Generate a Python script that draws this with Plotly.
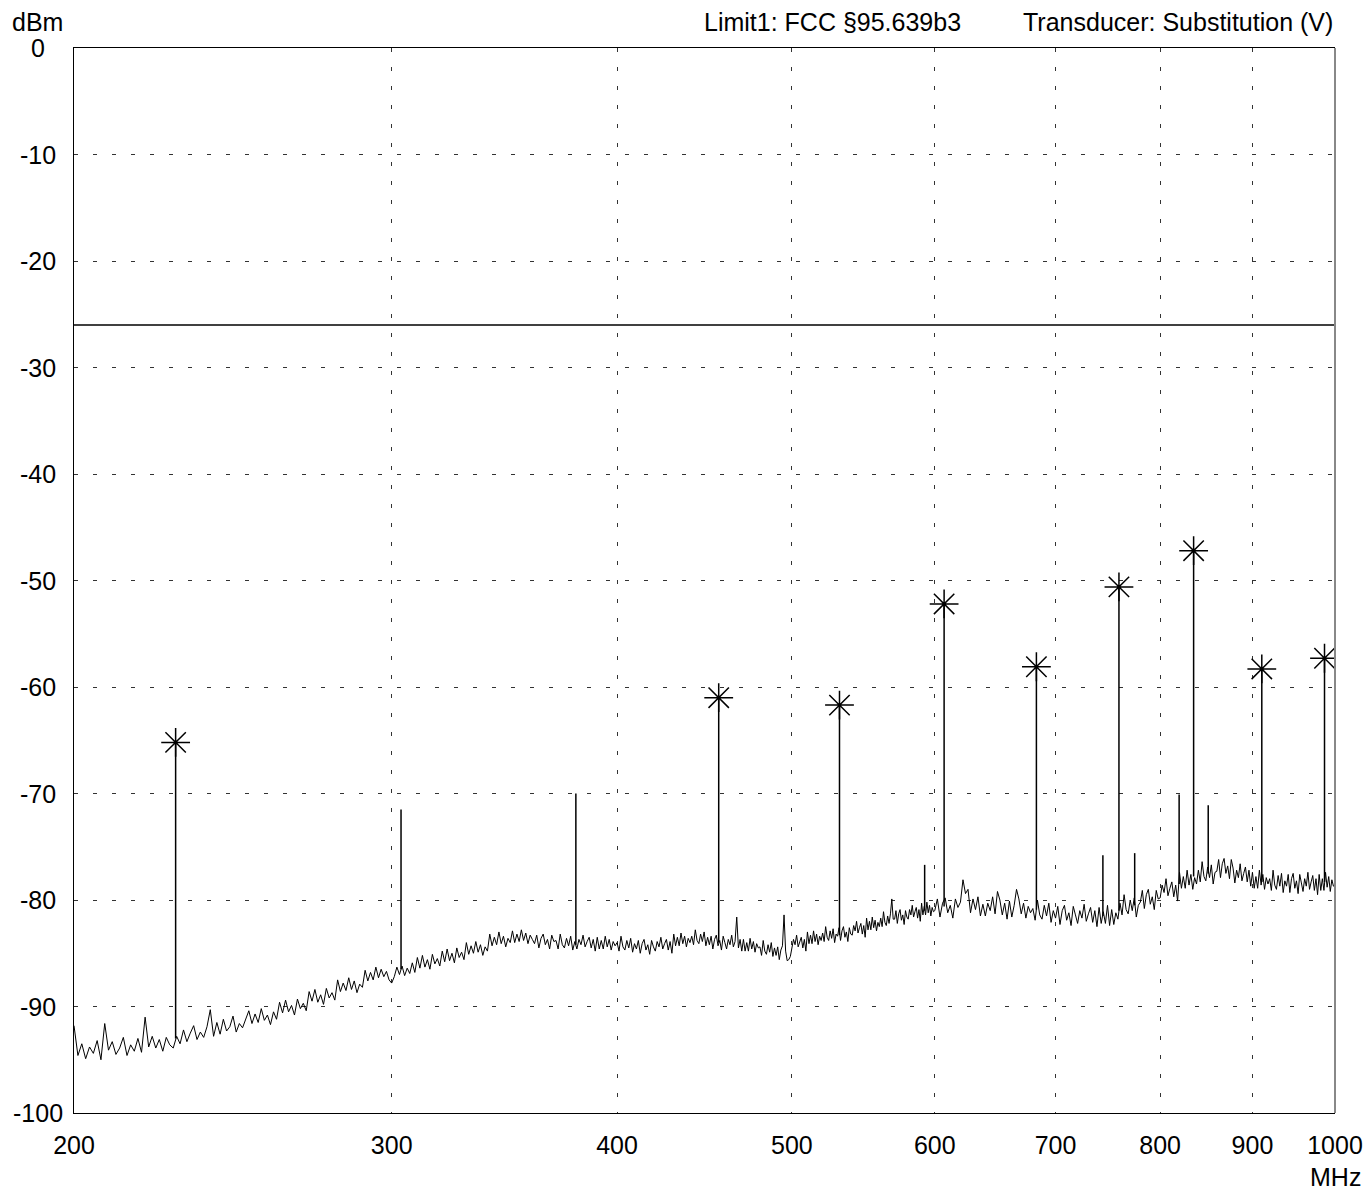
import numpy as np
import plotly.graph_objects as go

# ---------------- data ----------------
x_ticks = [200, 300, 400, 500, 600, 700, 800, 900, 1000]
x_tick_labels = ["200", "300", "400", "500", "600", "700", "800", "900", "1000"]
y_ticks = [0, -10, -20, -30, -40, -50, -60, -70, -80, -90, -100]
y_tick_labels = ["0", "-10", "-20", "-30", "-40", "-50", "-60", "-70", "-80", "-90", "-100"]

limit_dbm = -26.0

# noise floor 200..599 MHz, 1 MHz sweep step
level_a = [
    -91.8, -94.6, -93.5, -94.9, -93.8, -94.4, -93.2, -95.0, -91.6, -94.1,
    -93.3, -94.5, -93.9, -92.9, -94.6, -93.6, -94.2, -93.0, -94.3, -91.0,
    -93.8, -92.8, -93.9, -93.1, -94.2, -92.9, -93.6, -93.9, -92.8, -93.5,
    -92.2, -93.3, -92.5, -91.8, -93.1, -92.4, -92.9, -91.9, -90.3, -92.8,
    -91.5, -92.6, -91.2, -92.3, -91.9, -90.9, -92.4, -91.6, -92.0, -91.1,
    -90.4, -91.6, -90.7, -91.5, -90.2, -91.3, -90.8, -91.7, -90.5, -91.2,
    -89.6, -90.6, -89.4, -90.5, -89.9, -90.8, -89.3, -90.2, -89.7, -90.4,
    -88.6, -89.5, -88.4, -89.6, -88.9, -89.8, -88.3, -89.2, -88.7, -89.4,
    -87.5, -88.6, -87.8, -88.5, -87.3, -88.4, -87.6, -88.7, -87.9, -88.2,
    -86.6, -87.6, -86.8, -87.5, -86.3, -87.3, -86.5, -87.2, -86.7, -87.5,
    -87.8, -87.2, -86.3, -87.0, -86.2, -87.1, -86.4, -86.9, -85.9, -86.8,
    -85.4, -86.4, -85.2, -86.3, -85.6, -86.5, -85.1, -86.0, -85.5, -86.2,
    -84.8, -85.8, -84.6, -85.7, -85.0, -85.9, -84.5, -85.4, -84.9, -85.6,
    -84.0, -85.1, -84.3, -85.0, -83.9, -84.9, -84.2, -85.2, -84.4, -84.8,
    -83.2, -84.3, -83.5, -84.2, -83.0, -84.1, -83.4, -84.4, -83.6, -84.0,
    -82.9, -84.0, -83.2, -83.9, -82.8, -83.8, -83.1, -84.1, -83.3, -83.7,
    -84.1, -83.3, -84.5, -83.6, -83.2, -84.2, -83.7, -84.6, -83.3, -83.9,
    -83.8, -84.6, -83.2, -84.2, -84.5, -83.6, -84.3, -83.4, -84.7, -83.9,
    -84.6, -83.7, -84.2, -83.3, -84.4, -83.9, -83.5, -84.5, -83.7, -84.8,
    -83.5, -84.6, -83.8, -84.6, -83.4, -84.4, -83.7, -84.7, -83.9, -84.3,
    -84.0, -84.8, -83.4, -84.4, -84.7, -83.8, -84.5, -83.6, -84.9, -84.1,
    -84.6, -83.8, -85.0, -84.1, -83.7, -84.7, -84.2, -85.1, -83.8, -84.4,
    -84.8, -83.9, -84.4, -83.5, -84.6, -84.1, -83.7, -84.7, -83.9, -85.0,
    -83.2, -84.3, -83.5, -84.3, -83.1, -84.1, -83.4, -84.4, -83.6, -84.0,
    -83.4, -84.2, -82.8, -83.8, -84.1, -83.2, -83.9, -83.0, -84.3, -83.5,
    -84.2, -83.4, -84.6, -83.7, -83.3, -84.3, -83.8, -84.7, -83.4, -84.0,
    -84.6, -83.7, -84.2, -83.3, -84.4, -83.9, -81.6, -84.5, -83.7, -84.8,
    -83.7, -84.8, -84.0, -84.8, -83.6, -84.6, -83.9, -84.9, -84.1, -84.5,
    -84.4, -85.2, -83.8, -84.8, -85.1, -84.2, -84.9, -84.0, -85.3, -84.5,
    -85.2, -84.4, -85.6, -84.7, -84.3, -81.4, -84.8, -85.7, -85.6, -85.3,
    -84.6, -83.7, -84.2, -83.3, -84.4, -83.9, -83.5, -84.5, -83.7, -84.8,
    -83.0, -84.1, -83.3, -84.1, -82.9, -83.9, -83.2, -84.2, -83.4, -83.8,
    -83.1, -83.9, -82.5, -83.5, -83.8, -82.9, -83.6, -82.7, -84.0, -83.2,
    -83.4, -82.6, -83.8, -82.9, -82.5, -83.5, -83.0, -83.9, -82.6, -83.2,
    -83.3, -82.4, -82.9, -82.0, -83.1, -82.6, -82.2, -83.2, -82.4, -83.5,
    -81.7, -82.8, -82.0, -82.8, -81.6, -82.6, -81.9, -82.9, -82.1, -82.5,
    -81.7, -82.5, -81.1, -82.1, -82.4, -81.5, -82.2, -81.3, -79.9, -81.8,
    -81.8, -81.0, -82.2, -81.3, -80.9, -81.9, -81.4, -82.3, -81.0, -81.6,
    -81.8, -80.9, -81.4, -80.5, -81.6, -81.1, -80.7, -81.7, -80.9, -82.0,
    -80.3, -81.4, -80.6, -81.4, -80.2, -81.2, -80.5, -81.5, -80.7, -81.1,
]

# noise floor 600..1000 MHz, 2 MHz sweep step
level_b = [
    -81.0, -79.9, -81.6, -80.3, -79.8, -81.2, -80.5, -81.7, -79.9, -80.7,
    -80.2, -78.1, -79.4, -79.0, -81.2, -79.9, -80.9, -79.7, -81.5, -80.4,
    -81.5, -80.3, -81.0, -79.7, -81.3, -79.2, -80.0, -81.4, -80.3, -81.8,
    -80.1, -81.6, -80.5, -79.0, -79.9, -81.3, -80.3, -81.7, -80.6, -81.2,
    -80.8, -81.9, -80.0, -81.4, -81.8, -80.5, -81.5, -80.3, -82.1, -81.0,
    -81.7, -80.6, -82.3, -81.0, -80.5, -81.9, -81.2, -82.4, -80.6, -81.4,
    -82.2, -81.0, -81.7, -80.4, -82.0, -81.3, -80.7, -82.1, -81.0, -82.5,
    -80.7, -82.2, -81.1, -82.2, -80.5, -82.4, -80.9, -82.3, -81.2, -81.8,
    -80.3, -81.4, -79.5, -80.9, -81.3, -80.0, -81.0, -79.8, -81.6, -80.5,
    -80.2, -79.1, -80.8, -79.5, -79.0, -80.4, -79.7, -80.9, -79.1, -79.9,
    -79.8, -78.6, -79.3, -78.0, -79.6, -78.9, -78.3, -79.7, -78.6, -80.1,
    -77.4, -78.9, -77.8, -78.9, -77.2, -78.6, -77.6, -79.0, -77.9, -78.5,
    -77.2, -78.3, -76.4, -77.8, -78.2, -76.9, -77.9, -76.7, -78.5, -77.4,
    -77.3, -76.2, -77.9, -76.6, -76.1, -77.5, -76.8, -78.0, -76.2, -77.0,
    -78.4, -77.2, -77.9, -76.6, -78.2, -77.5, -76.9, -78.3, -77.2, -78.7,
    -77.4, -78.9, -77.8, -78.9, -77.2, -78.6, -77.6, -79.0, -77.9, -78.5,
    -78.0, -79.1, -77.2, -78.6, -79.0, -77.7, -78.7, -77.5, -79.3, -78.2,
    -78.7, -77.6, -79.3, -78.0, -77.5, -78.9, -78.2, -79.4, -77.6, -78.4,
    -79.2, -78.0, -78.7, -77.4, -79.0, -78.3, -77.7, -79.1, -78.0, -79.5,
    -77.6, -79.1, -78.0, -79.1, -77.4, -78.8, -77.8, -79.2, -78.1, -78.7,
    -78.6,
]

# discrete spurious lines (MHz, peak dBm, floor at the line dBm)
spur_freq = [227.7, 303.6, 379.5, 455.4, 531.3, 592.3, 607.2, 683.1,
             743.6, 759.0, 774.4, 819.6, 834.9, 850.6, 910.8, 986.7]
spur_peak = [-65.2, -71.5, -70.0, -61.0, -61.7, -76.7, -52.2, -58.1,
             -75.8, -50.6, -75.6, -70.1, -47.2, -71.1, -58.3, -57.3]
spur_floor = [-93.0, -86.5, -84.2, -84.0, -83.3, -81.0, -80.6, -80.9,
              -81.5, -81.0, -80.5, -78.5, -77.8, -77.5, -78.3, -78.3]

# marker readings (asterisks)
marker_freq = [227.7, 455.4, 531.3, 607.2, 683.1, 759.0, 834.9, 910.8, 986.7]
marker_level = [-65.2, -61.0, -61.7, -52.2, -58.1, -50.6, -47.2, -58.3, -57.3]

# ---------------- figure ----------------
freq_a = 200.0 + np.arange(len(level_a)) * 1.0
freq_b = 600.0 + np.arange(len(level_b)) * 2.0
freq = np.concatenate([freq_a, freq_b])
level = np.array(level_a + level_b)

FONT = "Liberation Sans, Arial, Helvetica, sans-serif"
FS = 25

fig = go.Figure()

fig.add_trace(go.Scatter(x=freq, y=level, mode="lines",
                         line=dict(color="black", width=1), hoverinfo="skip"))

sx, sy = [], []
for f, p, b in zip(spur_freq, spur_peak, spur_floor):
    sx += [f, f, None]
    sy += [b, p, None]
fig.add_trace(go.Scatter(x=sx, y=sy, mode="lines",
                         line=dict(color="black", width=1.5), hoverinfo="skip"))

fig.add_trace(go.Scatter(x=[x_ticks[0], x_ticks[-1]], y=[limit_dbm, limit_dbm],
                         mode="lines", line=dict(color="black", width=1.5),
                         hoverinfo="skip"))

fig.add_trace(go.Scatter(x=marker_freq, y=marker_level, mode="markers",
                         marker=dict(symbol="asterisk-open", size=24, color="black",
                                     line=dict(color="black", width=1.5)),
                         hoverinfo="skip"))

annotations = []
for v, t in zip(y_ticks, y_tick_labels):
    annotations.append(dict(x=-0.0286, xref="paper", y=v, yref="y", text=t,
                            showarrow=False, xanchor="center", yanchor="middle",
                            font=dict(family=FONT, size=FS, color="black")))
annotations.append(dict(x=-0.0286, xref="paper", y=1.0244, yref="paper", text="dBm",
                        showarrow=False, xanchor="center", yanchor="middle",
                        font=dict(family=FONT, size=FS, color="black")))
annotations.append(dict(x=0.705, xref="paper", y=1.0244, yref="paper",
                        text="Limit1: FCC §95.639b3", showarrow=False,
                        xanchor="right", yanchor="middle",
                        font=dict(family=FONT, size=FS, color="black")))
annotations.append(dict(x=1.0, xref="paper", y=1.0244, yref="paper",
                        text="Transducer: Substitution (V)", showarrow=False,
                        xanchor="right", yanchor="middle",
                        font=dict(family=FONT, size=FS, color="black")))
annotations.append(dict(x=1.0, xref="paper", y=-0.0601, yref="paper", text="MHz",
                        showarrow=False, xanchor="center", yanchor="middle",
                        font=dict(family=FONT, size=FS, color="black")))

fig.update_layout(
    width=1366, height=1193,
    margin=dict(l=74, r=31, t=48, b=80, pad=0, autoexpand=False),
    paper_bgcolor="white", plot_bgcolor="white",
    showlegend=False,
    font=dict(family=FONT, size=FS, color="black"),
    xaxis=dict(type="log", range=[np.log10(x_ticks[0]), np.log10(x_ticks[-1])],
               tickvals=x_ticks, ticktext=x_tick_labels,
               ticks="outside", ticklen=10, tickcolor="rgba(0,0,0,0)",
               showgrid=True, gridcolor="#333333", gridwidth=1, griddash="4px,15px",
               showline=True, linecolor="black", linewidth=1, mirror=True,
               zeroline=False, automargin=False,
               tickfont=dict(family=FONT, size=FS, color="black")),
    yaxis=dict(range=[-100, 0], tickvals=y_ticks, showticklabels=False, ticks="",
               showgrid=True, gridcolor="#333333", gridwidth=1, griddash="4px,15px",
               showline=True, linecolor="black", linewidth=1, mirror=False,
               zeroline=False, automargin=False),
    annotations=annotations,
    shapes=[dict(type="line", xref="paper", yref="paper", x0=1, x1=1, y0=0, y1=1,
                 line=dict(color="#888888", width=2), layer="above")],
)

fig.write_html("out.html", config={"displayModeBar": False},
               post_script="document.body.style.margin='0';document.body.style.overflow='hidden';")
